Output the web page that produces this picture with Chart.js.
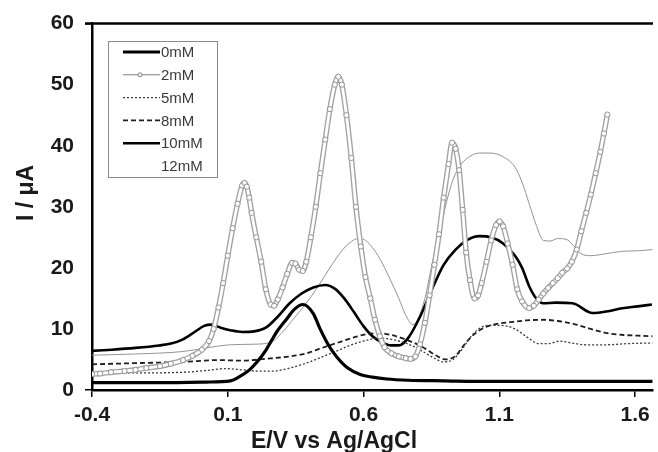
<!DOCTYPE html>
<html>
<head>
<meta charset="utf-8">
<title>DPV</title>
<script src="https://cdn.jsdelivr.net/npm/chart.js@4.4.1/dist/chart.umd.min.js"></script>
<style>
  html, body { margin: 0; padding: 0; background: #fff; }
  #wrap { width: 658px; height: 452px; }
</style>
</head>
<body>
<div id="wrap"><canvas id="chart" width="658" height="452"></canvas></div>
<script>
// ============================================================
// DATA — potential (V vs Ag/AgCl) and current (µA) per concentration
// ============================================================
const seriesLabels = ['0mM', '2mM', '5mM', '8mM', '10mM', '12mM'];
const xTicks = [-0.4, 0.1, 0.6, 1.1, 1.6];
const yTicks = [0, 10, 20, 30, 40, 50, 60];

const e0mM = [-0.40, -0.15, 0.02, 0.11, 0.14, 0.18, 0.21, 0.24, 0.26, 0.28, 0.32, 0.345, 0.377, 0.415, 0.44, 0.469, 0.50, 0.542, 0.59, 0.633, 0.686, 0.764, 0.895, 1.07, 1.245, 1.42, 1.664];
const i0mM = [1.2, 1.2, 1.3, 1.5, 2.1, 3.3, 4.7, 6.5, 8.0, 9.5, 11.8, 13.2, 14.0, 12.5, 10.0, 7.5, 5.5, 3.6, 2.5, 2.1, 1.8, 1.6, 1.5, 1.4, 1.4, 1.4, 1.4];

const e2mM = [-0.40, -0.37, -0.33, -0.28, -0.24, -0.20, -0.15, -0.11, -0.065, -0.03, 0.005, 0.031, 0.048, 0.066, 0.083, 0.100, 0.118, 0.136, 0.153, 0.162, 0.170, 0.179, 0.188, 0.205, 0.223, 0.240, 0.258, 0.271, 0.284, 0.302, 0.319, 0.337, 0.349, 0.363, 0.376, 0.389, 0.406, 0.424, 0.441, 0.459, 0.476, 0.494, 0.507, 0.520, 0.537, 0.555, 0.572, 0.590, 0.607, 0.625, 0.642, 0.660, 0.677, 0.703, 0.730, 0.756, 0.773, 0.791, 0.808, 0.826, 0.843, 0.861, 0.878, 0.895, 0.913, 0.926, 0.939, 0.952, 0.965, 0.978, 0.992, 1.009, 1.022, 1.035, 1.053, 1.070, 1.088, 1.101, 1.114, 1.131, 1.149, 1.166, 1.184, 1.210, 1.227, 1.245, 1.262, 1.280, 1.297, 1.315, 1.332, 1.350, 1.367, 1.385, 1.402, 1.420, 1.437, 1.455, 1.472, 1.485, 1.498];
const i2mM = [2.6, 2.7, 2.9, 3.1, 3.3, 3.6, 3.9, 4.3, 4.9, 5.6, 6.6, 8.0, 10.0, 13.5, 17.5, 22.0, 26.5, 30.5, 33.5, 33.9, 33.3, 31.5, 29.0, 25.0, 21.0, 16.5, 14.0, 13.8, 14.8, 16.8, 19.0, 20.8, 20.7, 19.7, 19.5, 21.0, 25.0, 30.0, 35.5, 41.0, 46.0, 50.0, 51.3, 50.0, 45.0, 38.0, 30.0, 23.5, 18.5, 15.0, 11.5, 8.8, 7.0, 6.0, 5.5, 5.2, 5.1, 5.5, 7.5, 11.0, 15.5, 20.5, 25.5, 31.5, 37.0, 40.5, 39.5, 36.0, 29.5, 22.5, 18.0, 15.0, 15.5, 17.5, 21.0, 24.5, 27.0, 27.6, 26.8, 24.0, 20.5, 16.5, 14.5, 13.4, 13.8, 14.8, 15.8, 16.7, 17.5, 18.3, 19.2, 19.9, 21.0, 23.0, 26.0, 29.0, 32.0, 35.5, 39.0, 42.0, 45.1];

const e5mM = [-0.40, -0.24, -0.065, 0.022, 0.092, 0.153, 0.214, 0.267, 0.328, 0.389, 0.441, 0.502, 0.555, 0.607, 0.660, 0.703, 0.747, 0.791, 0.826, 0.861, 0.895, 0.930, 0.965, 1.000, 1.035, 1.079, 1.123, 1.158, 1.201, 1.245, 1.280, 1.323, 1.367, 1.420, 1.490, 1.577, 1.664];
const i5mM = [2.8, 2.8, 2.9, 3.2, 3.5, 3.3, 3.1, 3.1, 3.6, 4.4, 5.3, 6.4, 7.4, 8.1, 8.5, 8.3, 7.8, 7.0, 6.1, 5.2, 4.6, 5.0, 6.8, 9.0, 10.3, 10.6, 10.5, 10.0, 8.7, 7.6, 7.6, 8.0, 7.7, 7.4, 7.4, 7.6, 7.7];

const e8mM = [-0.40, -0.24, -0.065, 0.066, 0.153, 0.240, 0.328, 0.389, 0.441, 0.502, 0.564, 0.616, 0.660, 0.703, 0.747, 0.782, 0.826, 0.869, 0.904, 0.939, 0.974, 1.009, 1.044, 1.088, 1.140, 1.201, 1.262, 1.315, 1.376, 1.437, 1.498, 1.559, 1.612, 1.664];
const i8mM = [4.2, 4.4, 4.6, 4.9, 4.8, 5.1, 5.5, 6.0, 6.8, 7.7, 8.6, 9.2, 9.3, 9.0, 8.4, 7.8, 6.8, 5.6, 5.0, 5.6, 7.6, 9.2, 10.2, 10.8, 11.1, 11.4, 11.5, 11.3, 10.8, 10.0, 9.3, 9.0, 8.9, 8.8];

const e10mM = [-0.40, -0.327, -0.240, -0.153, -0.109, -0.065, -0.022, 0.013, 0.040, 0.074, 0.109, 0.153, 0.197, 0.240, 0.284, 0.328, 0.372, 0.415, 0.459, 0.494, 0.529, 0.564, 0.599, 0.633, 0.668, 0.703, 0.730, 0.764, 0.808, 0.852, 0.895, 0.939, 0.983, 1.026, 1.070, 1.114, 1.158, 1.184, 1.210, 1.236, 1.262, 1.308, 1.370, 1.443, 1.500, 1.553, 1.610, 1.662];
const i10mM = [6.4, 6.6, 6.9, 7.3, 7.6, 8.3, 9.5, 10.5, 10.7, 10.2, 9.8, 9.5, 9.6, 10.2, 12.0, 14.2, 15.8, 16.8, 17.2, 16.6, 15.0, 12.8, 10.5, 8.8, 7.8, 7.3, 7.3, 8.5, 12.0, 16.5, 20.5, 23.0, 24.6, 25.2, 25.0, 24.0, 22.0, 20.0, 17.0, 15.0, 14.2, 14.3, 14.2, 12.6, 12.9, 13.4, 13.7, 14.0];

const e12mM = [-0.40, -0.24, -0.065, 0.022, 0.109, 0.197, 0.258, 0.302, 0.345, 0.389, 0.433, 0.476, 0.520, 0.555, 0.581, 0.607, 0.633, 0.660, 0.694, 0.730, 0.756, 0.782, 0.799, 0.826, 0.852, 0.878, 0.904, 0.930, 0.957, 0.983, 1.026, 1.070, 1.114, 1.158, 1.184, 1.210, 1.236, 1.262, 1.288, 1.315, 1.350, 1.376, 1.402, 1.437, 1.490, 1.550, 1.612, 1.664];
const i12mM = [5.7, 5.9, 6.3, 6.9, 7.4, 7.5, 7.8, 9.5, 11.8, 14.2, 17.0, 20.0, 22.8, 24.3, 24.8, 24.5, 23.3, 21.5, 18.5, 15.0, 12.2, 10.7, 11.5, 15.0, 20.5, 25.5, 30.5, 34.5, 36.8, 38.0, 38.8, 38.8, 38.2, 36.5, 34.0, 30.5, 27.0, 24.5, 24.4, 24.8, 24.6, 23.5, 22.3, 22.0, 22.3, 22.7, 22.8, 23.0];

// ============================================================
// HELPERS
// ============================================================
function pontos(e, i) {
  return e.map((x, k) => ({ x, y: i[k] }));
}

const FONTE = '"Liberation Sans", Arial, sans-serif';

// moldura superior + legenda dentro da área + títulos dos eixos
const molduraPlugin = {
  id: 'moldura',
  afterDraw(chart) {
    const { ctx, chartArea: a } = chart;
    ctx.save();

    // linha superior
    ctx.strokeStyle = '#000';
    ctx.lineWidth = 2.5;
    ctx.beginPath();
    ctx.moveTo(a.left - 7, a.top);
    ctx.lineTo(a.right, a.top);
    ctx.stroke();

    // legenda
    const lx = 108, ly = 41, lw = 109, lh = 136;
    ctx.fillStyle = '#fff';
    ctx.fillRect(lx, ly, lw, lh);
    ctx.strokeStyle = '#8a8a8a';
    ctx.lineWidth = 1;
    ctx.strokeRect(lx + 0.5, ly + 0.5, lw, lh);

    ctx.font = '15px ' + FONTE;
    ctx.textBaseline = 'middle';
    ctx.textAlign = 'left';
    let k = 0;
    chart.data.datasets.forEach((ds) => {
      if (ds.legenda === false) return;
      const y = 52 + k * 22.8;
      k += 1;
      if (ds.amostra !== false) {
        ctx.strokeStyle = ds.amostraCor || ds.borderColor;
        ctx.lineWidth = ds.amostraLargura || ds.borderWidth;
        ctx.setLineDash(ds.borderDash || []);
        ctx.beginPath();
        ctx.moveTo(123, y);
        ctx.lineTo(160, y);
        ctx.stroke();
        ctx.setLineDash([]);
        if (ds.amostraPonto) {
          ctx.fillStyle = '#fff';
          ctx.strokeStyle = '#7c7c7c';
          ctx.lineWidth = 1;
          ctx.beginPath();
          ctx.arc(140, y, 2, 0, Math.PI * 2);
          ctx.fill();
          ctx.stroke();
        }
      }
      ctx.fillStyle = '#3a3a3a';
      ctx.fillText(ds.label, 161, y + 1);
    });

    // títulos dos eixos
    ctx.fillStyle = '#1a1a1a';
    ctx.font = 'bold 23px ' + FONTE;
    ctx.textAlign = 'center';
    ctx.textBaseline = 'alphabetic';
    ctx.fillText('E/V vs Ag/AgCl', 334, 448);

    ctx.textBaseline = 'middle';
    ctx.translate(27, 193);
    ctx.rotate(-Math.PI / 2);
    ctx.fillText('I / \u03bcA', 0, 0);
    ctx.restore();
  },
};

// ============================================================
// CHART
// ============================================================
const estilos = [
  { borderColor: '#000', borderWidth: 3.2 },
  // 2mM: cadeia de círculos -> faixa cinza com miolo branco + marcadores
  { borderColor: '#a2a2a2', borderWidth: 5.5, order: 2, amostraCor: '#7c7c7c', amostraLargura: 1, amostraPonto: true },
  { borderColor: '#3a3a3a', borderWidth: 1.3, borderDash: [2, 2] },
  { borderColor: '#1e1e1e', borderWidth: 1.8, borderDash: [5, 3] },
  { borderColor: '#000', borderWidth: 2.6 },
  { borderColor: '#939393', borderWidth: 1, amostra: false },
];
const series = [[e0mM, i0mM], [e2mM, i2mM], [e5mM, i5mM], [e8mM, i8mM], [e10mM, i10mM], [e12mM, i12mM]];

const datasets = series.map(([e, i], k) => ({
  label: seriesLabels[k],
  data: pontos(e, i),
  pointRadius: 0,
  fill: false,
  order: 3,
  cubicInterpolationMode: 'monotone',
  ...estilos[k],
}));

// miolo branco da série 2mM, com os círculos nos pontos lidos
datasets.push({
  label: '2mM',
  legenda: false,
  data: pontos(e2mM, i2mM),
  borderColor: '#fff',
  borderWidth: 2.8,
  pointRadius: 2.6,
  pointBorderWidth: 1,
  pointBorderColor: '#939393',
  pointBackgroundColor: '#fff',
  fill: false,
  order: 1,
  cubicInterpolationMode: 'monotone',
});

new Chart(document.getElementById('chart'), {
  type: 'line',
  data: { datasets },
  plugins: [molduraPlugin],
  options: {
    responsive: false,
    animation: false,
    layout: { padding: { top: 22, right: 0, left: 0, bottom: 0 } },
    plugins: {
      legend: { display: false },
      tooltip: { enabled: false },
    },
    scales: {
      x: {
        type: 'linear',
        min: -0.4,
        max: 1.666,
        afterBuildTicks: (s) => { s.ticks = xTicks.map((v) => ({ value: v })); },
        afterFit: (s) => { s.height = 62; },
        border: { display: true, color: '#000', width: 2.5 },
        grid: { drawOnChartArea: false, drawTicks: true, tickLength: 7, color: '#000', lineWidth: 1.5 },
        ticks: {
          padding: 6,
          color: '#1a1a1a',
          font: { family: FONTE, size: 21, weight: 'bold' },
          callback: (v) => v.toFixed(1),
        },
      },
      y: {
        min: 0,
        max: 60,
        afterBuildTicks: (s) => { s.ticks = yTicks.map((v) => ({ value: v })); },
        afterFit: (s) => { s.width = 92; },
        border: { display: true, color: '#000', width: 2.5 },
        grid: {
          drawOnChartArea: false,
          drawTicks: true,
          tickLength: 7,
          lineWidth: 1.5,
          color: (c) => (c.tick && (c.tick.value === 0 || c.tick.value === 60) ? '#000' : 'rgba(0,0,0,0)'),
        },
        ticks: {
          padding: 11,
          color: '#1a1a1a',
          font: { family: FONTE, size: 21, weight: 'bold' },
        },
      },
    },
  },
});
</script>
</body>
</html>
